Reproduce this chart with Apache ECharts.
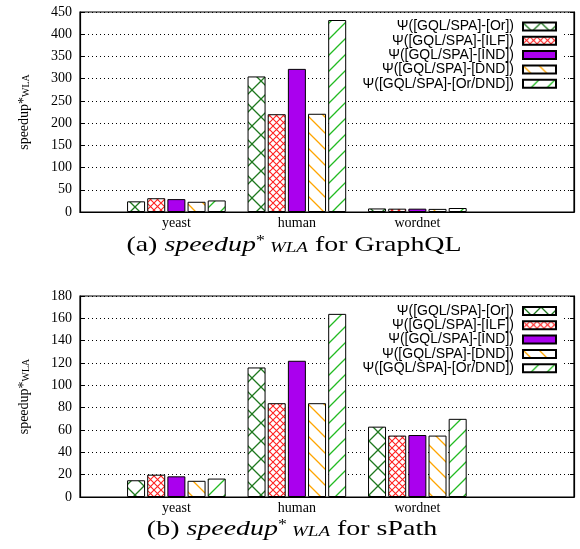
<!DOCTYPE html>
<html>
<head>
<meta charset="utf-8">
<script src="https://cdn.jsdelivr.net/npm/echarts@6/dist/echarts.min.js"></script>
<style>
html,body{margin:0;padding:0;background:#fff;}
#chart{width:580px;height:549px;}
</style>
</head>
<body>
<div id="chart"></div>
<script>
// ---- data ----
const categories = ['yeast', 'human', 'wordnet'];
const seriesNames = ['Ψ([GQL/SPA]-[Or])', 'Ψ([GQL/SPA]-[ILF])', 'Ψ([GQL/SPA]-[IND])', 'Ψ([GQL/SPA]-[DND])', 'Ψ([GQL/SPA]-[Or/DND])'];
// (a) GraphQL
const gqlOr    = [24, 305, 8];
const gqlILF   = [31, 220, 7.5];
const gqlIND   = [29, 322, 7.5];
const gqlDND   = [23, 221, 7];
const gqlOrDND = [26, 432, 9];
// (b) sPath
const spOr    = [15, 116, 63];
const spILF   = [20, 84, 55];
const spIND   = [18.5, 122, 55.5];
const spDND   = [14.5, 84, 55];
const spOrDND = [16.5, 164, 70];
const yMaxA = 450, yStepA = 50;
const yMaxB = 180, yStepB = 20;

// ---- patterns ----
function makeTile(size, drawFn) {
  const c = document.createElement('canvas');
  c.width = size; c.height = size;
  const g = c.getContext('2d');
  g.fillStyle = '#fff'; g.fillRect(0, 0, size, size);
  drawFn(g, size);
  return { image: c, repeat: 'repeat' };
}
function crossTile(size, color, lw) {
  return makeTile(size, (g, s) => {
    g.strokeStyle = color; g.lineWidth = lw;
    g.beginPath();
    g.moveTo(0, 0); g.lineTo(s, s);
    g.moveTo(0, s); g.lineTo(s, 0);
    g.stroke();
  });
}
function diagTile(size, color, lw, dir) {
  return makeTile(size, (g, s) => {
    g.strokeStyle = color; g.lineWidth = lw;
    g.beginPath();
    if (dir === 'back') { // "\"
      g.moveTo(-1, -1); g.lineTo(s + 1, s + 1);
      g.moveTo(s - 1, -1); g.lineTo(s + 1, 1);
      g.moveTo(-1, s - 1); g.lineTo(1, s + 1);
    } else { // "/"
      g.moveTo(-1, s + 1); g.lineTo(s + 1, -1);
      g.moveTo(-1, 1); g.lineTo(1, -1);
      g.moveTo(s - 1, s + 1); g.lineTo(s + 1, s - 1);
    }
    g.stroke();
  });
}
const fills = [
  crossTile(18, '#1e781e', 1.3),
  crossTile(7, '#ff2020', 1.1),
  '#aa00ee',
  diagTile(16, '#ffa500', 1.3, 'back'),
  diagTile(16, '#22bb22', 1.3, 'fwd')
];

const serif = 'Liberation Serif';
const sans = 'Liberation Sans';

function buildSeries(valsList, axisIdx, yIdx) {
  return valsList.map((vals, k) => ({
    type: 'bar',
    name: seriesNames[k],
    xAxisIndex: axisIdx,
    yAxisIndex: yIdx,
    barWidth: 18,
    barGap: '12%',
    encode: { x: 0, y: 1 },
    itemStyle: { color: fills[k], borderColor: '#000', borderWidth: 1 },
    data: categories.map((c, i) => [i, vals[i]]),
    z: 3
  }));
}

function xAxisCfg(gridIndex) {
  return {
    type: 'value', gridIndex, min: -0.8, max: 3.3,
    axisLine: { show: true, onZero: false, lineStyle: { color: '#000', width: 1.2 } },
    axisTick: { show: false },
    splitLine: { show: false },
    axisLabel: {
      customValues: [0, 1, 2],
      formatter: v => categories[Math.round(v)] || '',
      fontFamily: serif, fontSize: 14, color: '#000', margin: 4
    }
  };
}
function yAxisCfg(gridIndex, max, step, left) {
  return {
    type: 'value', gridIndex, min: 0, max, interval: step,
    position: left ? 'left' : 'right',
    axisLine: { show: true, onZero: false, lineStyle: { color: '#000', width: 1.2 } },
    axisTick: { show: true, inside: true, length: 4, lineStyle: { color: '#000' } },
    axisLabel: { show: left, fontFamily: serif, fontSize: 14, color: '#000', margin: 8 },
    splitLine: { show: left, lineStyle: { color: '#000', type: [1, 3], width: 1 } },
    name: left ? '{a|speedup*}{b|WLA}' : '',
    nameLocation: 'middle',
    nameGap: 49,
    nameTextStyle: {
      fontFamily: serif, fontSize: 14, color: '#000',
      rich: {
        a: { fontFamily: serif, fontSize: 14, color: '#000' },
        b: { fontFamily: serif, fontSize: 10, color: '#000', verticalAlign: 'bottom' }
      }
    }
  };
}

const legendRowsA = [26.5, 40.8, 55.1, 69.4, 83.7];
const legendRowsB = [311, 325.3, 339.6, 353.9, 368.2];
const legends = [];
[legendRowsA, legendRowsB].forEach(rows => {
  rows.forEach((cy, k) => {
    legends.push({
      data: [seriesNames[k]],
      orient: 'vertical',
      right: 23,
      top: cy - 7,
      align: 'right',
      icon: 'rect',
      itemWidth: 33,
      itemHeight: 8,
      itemGap: 0,
      padding: 0,
      selectedMode: false,
      textStyle: { fontFamily: sans, fontSize: 14, color: '#000', lineHeight: 14, padding: [0, 4, 0, 0] }
    });
  });
});

function captionRich(size) {
  return {
    i: { fontFamily: serif, fontStyle: 'italic', fontSize: size, fill: '#000' },
    s: { fontFamily: serif, fontSize: Math.round(size * 0.65), fill: '#000', verticalAlign: 'top' },
    w: { fontFamily: serif, fontStyle: 'italic', fontSize: Math.round(size * 0.7), fill: '#000', verticalAlign: 'bottom', padding: [0, 0, 0, 4] },
    n: { fontFamily: serif, fontSize: size, fill: '#000' }
  };
}
const capSize = 22, capScale = 1.27;

const option = {
  backgroundColor: '#fff',
  animation: false,
  grid: [
    { left: 80, top: 12, width: 494, height: 200, show: true, borderColor: '#000', borderWidth: 1.2, backgroundColor: 'transparent' },
    { left: 80, top: 296, width: 494, height: 201, show: true, borderColor: '#000', borderWidth: 1.2, backgroundColor: 'transparent' }
  ],
  xAxis: [xAxisCfg(0), xAxisCfg(1)],
  yAxis: [
    yAxisCfg(0, yMaxA, yStepA, true), yAxisCfg(0, yMaxA, yStepA, false),
    yAxisCfg(1, yMaxB, yStepB, true), yAxisCfg(1, yMaxB, yStepB, false)
  ],
  legend: legends,
  graphic: [
    { type: 'rect', z: 1, shape: { x: 347, y: 14, width: 216, height: 78 }, style: { fill: '#fff' } },
    { type: 'rect', z: 1, shape: { x: 347, y: 298, width: 216, height: 78 }, style: { fill: '#fff' } },
    {
      type: 'text', x: 294, y: 245, scaleX: capScale, z: 5,
      style: {
        text: '{n|(a) }{i|speedup}{s|*}{w|WLA}{n| for GraphQL}',
        fontFamily: serif, fontSize: capSize, fill: '#000',
        align: 'center', verticalAlign: 'middle', rich: captionRich(capSize)
      }
    },
    {
      type: 'text', x: 292, y: 529, scaleX: capScale, z: 5,
      style: {
        text: '{n|(b) }{i|speedup}{s|*}{w|WLA}{n| for sPath}',
        fontFamily: serif, fontSize: capSize, fill: '#000',
        align: 'center', verticalAlign: 'middle', rich: captionRich(capSize)
      }
    }
  ],
  series: [
    ...buildSeries([gqlOr, gqlILF, gqlIND, gqlDND, gqlOrDND], 0, 0),
    ...buildSeries([spOr, spILF, spIND, spDND, spOrDND], 1, 2)
  ]
};

const chart = echarts.init(document.getElementById('chart'), null, { renderer: 'canvas' });
chart.setOption(option);
</script>
</body>
</html>
